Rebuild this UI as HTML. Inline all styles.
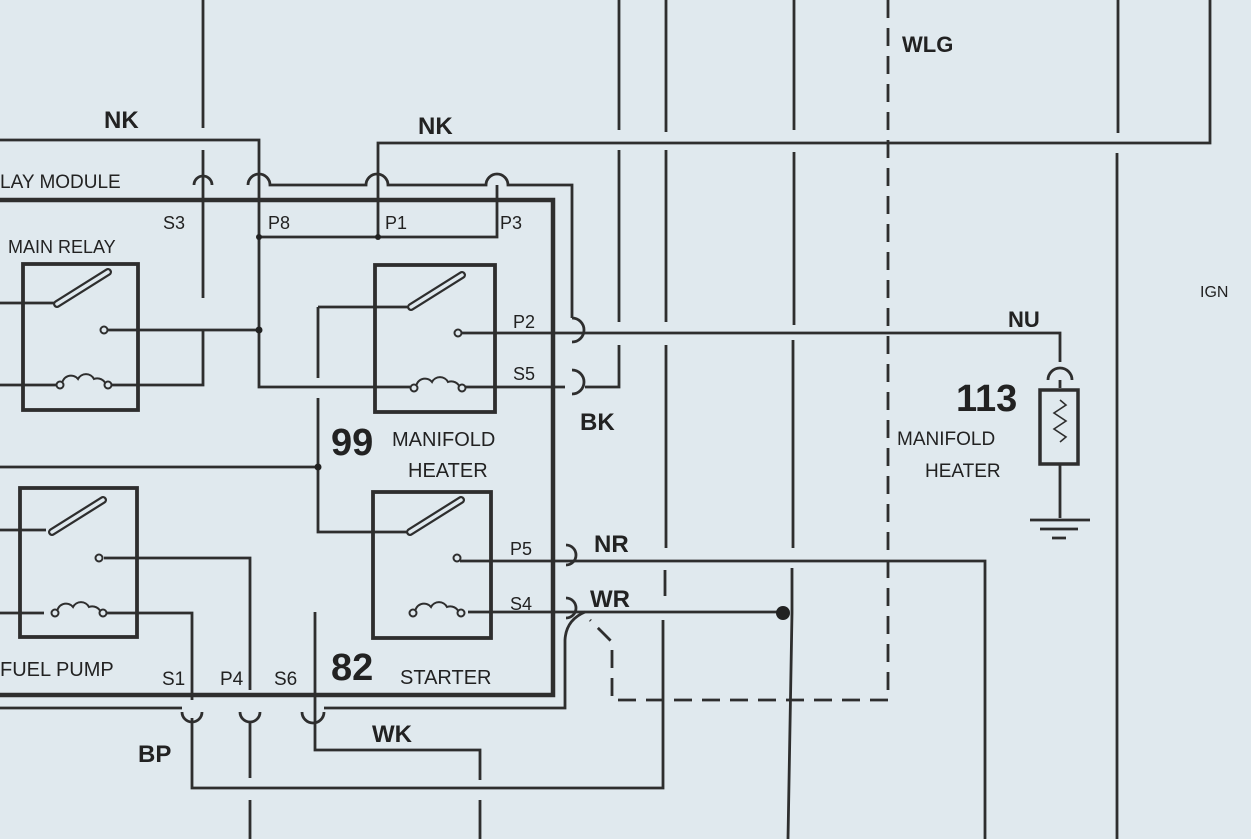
<!DOCTYPE html>
<html><head><meta charset="utf-8"><style>
html,body{margin:0;padding:0;background:#e0e9ee;}
svg{display:block}
text{font-family:"Liberation Sans",Arial,sans-serif;fill:#222}
.b{font-weight:bold}
</style></head><body>
<svg width="1251" height="839" viewBox="0 0 1251 839" xmlns="http://www.w3.org/2000/svg">
<rect width="1251" height="839" fill="#e0e9ee"/>
<g stroke="#2e2e2e" stroke-width="2.8" fill="none">
<path d="M203 0V128M203 150V298M203 330V385H110"/>
<path d="M619 0V130M619 150V322M619 345V387H585"/>
<path d="M565 387H465M410 387H259V140H0"/>
<path d="M666 0V132M666 150V322M666 345V548M665 570V596M663 620V788H192V718"/>
<path d="M794 0V130M794 152V325M793 340V548M792 568V613L788 839"/>
<path d="M1118 0V133M1117 153V839" />
<path d="M378 237V143H1210V0"/>
<path d="M888 0V700H612V642L590 620" stroke-dasharray="18,10"/>
<path d="M0 200H553V695H0" stroke-width="4.5"/>
<path d="M194 185a9 9 0 0 1 18 0"/>
<path d="M248 185a11 11 0 0 1 22 0H366a11 11 0 0 1 22 0H486a11 11 0 0 1 22 0H572V318"/>
<path d="M572 318a12 12 0 0 1 0 24"/>
<path d="M572 370a12 12 0 0 1 0 24"/>
<path d="M259 237H497V185"/>
<path d="M460 333H1060V362M1060 380V388"/>
<path d="M1048 380a12 12 0 0 1 24 0"/>
<rect x="1040" y="390" width="38" height="74" stroke-width="3.5"/>
<path d="M1060 400l6 5-12 8 12 8-12 8 12 8-6 5" stroke-width="1.6"/>
<path d="M1060 464V518M1030 520H1090M1040 529H1078M1052 538H1066"/>
<rect x="23" y="264" width="115" height="146" stroke-width="3.8"/>
<rect x="375" y="265" width="120" height="147" stroke-width="3.8"/>
<rect x="20" y="488" width="117" height="149" stroke-width="3.8"/>
<rect x="373" y="492" width="118" height="146" stroke-width="3.8"/>
<path d="M0 303H54M107 330H259M0 385H56"/>
<path d="M0 467H318M318 307H408M318 307V378M318 398V532H408"/>
<path d="M0 530H46M104 558H250V690M250 722V778M250 800V839"/>
<path d="M0 613H44M104 613H192V700"/>
<path d="M0 708H182"/>
<path d="M182 712a10 10 0 0 0 20 0"/>
<path d="M240 712a10 10 0 0 0 20 0"/>
<path d="M302 712a11 11 0 0 0 22 0M324 708H565V640Q566 620 585 612"/>
<path d="M315 612V750H480V780M480 800V839"/>
<path d="M468 612H783"/>
<path d="M460 561H985V839"/>
<path d="M566 545a10 10 0 0 1 0 20M566 598a10 10 0 0 1 0 20"/>
</g>
<g stroke="#2e2e2e" stroke-width="2" fill="#e0e9ee">
<g id="sw"><path d="M57 304L108 272" stroke-width="8" stroke-linecap="round"/><path d="M57 304L108 272" stroke="#e0e9ee" stroke-width="3.5" stroke-linecap="round"/><circle cx="104" cy="330" r="3.5"/><path d="M62 385a9 9 0 0 1 16-6a9 9 0 0 1 16 0a9 9 0 0 1 12 6" fill="none"/><circle cx="60" cy="385" r="3.5"/><circle cx="108" cy="385" r="3.5"/></g>
<use href="#sw" x="354" y="3"/>
<use href="#sw" x="-5" y="228"/>
<use href="#sw" x="353" y="228"/>
</g>
<g fill="#222">
<circle cx="259" cy="237" r="3"/><circle cx="378" cy="237" r="3"/><circle cx="259" cy="330" r="3.5"/><circle cx="318" cy="467" r="3.5"/>
<circle cx="783" cy="613" r="7"/>
</g>
<text x="104" y="128" font-size="24" class="b">NK</text>
<text x="418" y="134" font-size="24" class="b">NK</text>
<text x="0" y="188" font-size="19">LAY MODULE</text>
<text x="163" y="229" font-size="18">S3</text>
<text x="268" y="229" font-size="18">P8</text>
<text x="385" y="229" font-size="18">P1</text>
<text x="500" y="229" font-size="18">P3</text>
<text x="8" y="253" font-size="18">MAIN RELAY</text>
<text x="513" y="328" font-size="18">P2</text>
<text x="513" y="380" font-size="18">S5</text>
<text x="580" y="430" font-size="24" class="b">BK</text>
<text x="331" y="455" font-size="38" class="b">99</text>
<text x="392" y="446" font-size="20">MANIFOLD</text>
<text x="408" y="477" font-size="20">HEATER</text>
<text x="510" y="555" font-size="18">P5</text>
<text x="594" y="552" font-size="24" class="b">NR</text>
<text x="510" y="610" font-size="18">S4</text>
<text x="590" y="607" font-size="24" class="b">WR</text>
<text x="0" y="676" font-size="20">FUEL PUMP</text>
<text x="162" y="685" font-size="19">S1</text>
<text x="220" y="685" font-size="19">P4</text>
<text x="274" y="685" font-size="19">S6</text>
<text x="331" y="680" font-size="38" class="b">82</text>
<text x="400" y="684" font-size="20">STARTER</text>
<text x="372" y="742" font-size="24" class="b">WK</text>
<text x="138" y="762" font-size="24" class="b">BP</text>
<text x="1008" y="327" font-size="22" class="b">NU</text>
<text x="956" y="411" font-size="38" class="b">113</text>
<text x="897" y="445" font-size="19">MANIFOLD</text>
<text x="925" y="477" font-size="19">HEATER</text>
<text x="902" y="52" font-size="22" class="b">WLG</text>
<text x="1200" y="297" font-size="16">IGN</text>
</svg>
</body></html>
